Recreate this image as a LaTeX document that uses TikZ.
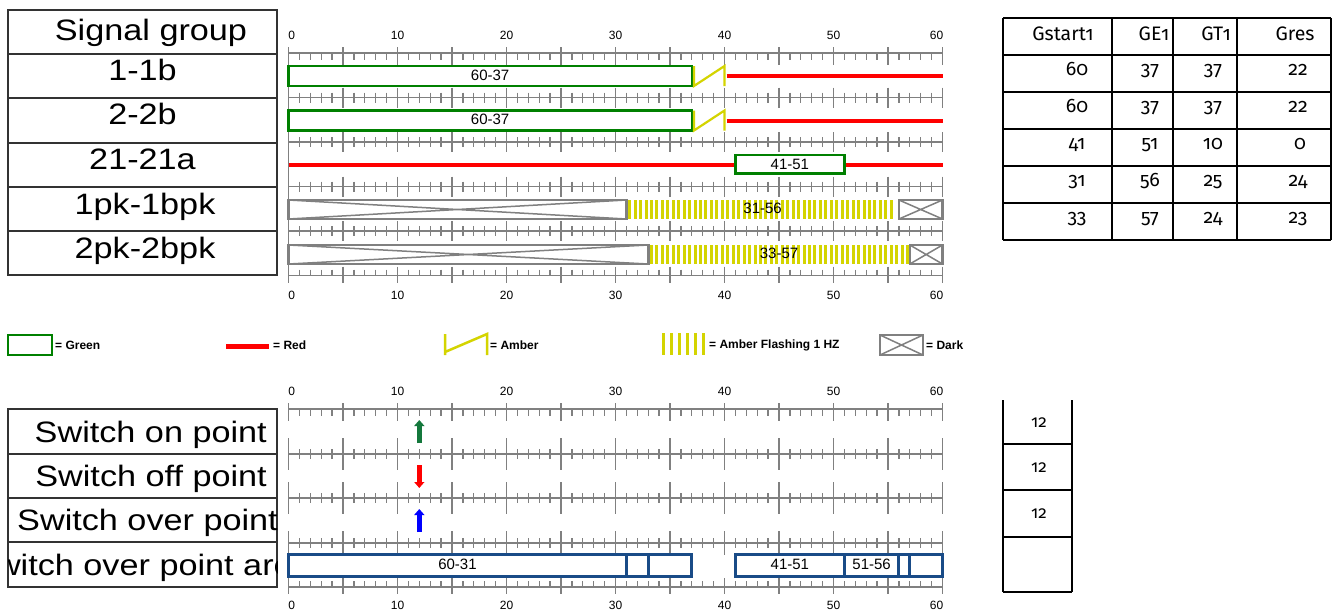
\documentclass[tikz,border=0pt]{standalone}
\usepackage{fontspec}
\setmainfont{Liberation Sans}
\newfontfamily\labfont[FakeStretch=1.16]{Liberation Sans}
\newfontfamily\tabfont[Numbers=OldStyle]{Fira Sans}
\usetikzlibrary{arrows.meta}
\definecolor{axgray}{RGB}{128,128,128}
\definecolor{sgreen}{RGB}{0,128,0}
\definecolor{sred}{RGB}{255,0,0}
\definecolor{samber}{RGB}{212,212,0}
\definecolor{sblue}{RGB}{25,75,135}
\definecolor{agreen}{RGB}{20,120,60}
\definecolor{ablue}{RGB}{0,0,255}
\newcommand\axmid[2]{%
  \draw[axln] (0,#1) -- (60,#1);
  \foreach \i in {0,...,60}{\draw[axln] (\i,#1-5) -- (\i,#1+5);}
  \foreach \i in {0,5,...,60}{\draw[axln] (\i,#1-#2) -- (\i,#1+#2);}}
\newcommand\axtop[1]{%
  \draw[axln] (0,#1) -- (60,#1);
  \foreach \i in {0,...,60}{\draw[axln] (\i,#1) -- (\i,#1+7);}
  \foreach \i in {0,5,...,60}{\draw[axln] (\i,#1-6) -- (\i,#1+12);}}
\newcommand\axbot[1]{%
  \draw[axln] (0,#1) -- (60,#1);
  \foreach \i in {0,...,60}{\draw[axln] (\i,#1-6) -- (\i,#1);}
  \foreach \i in {0,5,...,60}{\draw[axln] (\i,#1-9) -- (\i,#1+7);}}
\newcommand\axnums[2]{% #1 y, #2 name prefix
  \node[numtxt] (#20) at (0.3,#1) {0};
  \foreach \i in {10,20,...,50}{\node[numtxt] (#2\i) at (\i,#1) {\i};}
  \node[numtxt] (#260) at (59.45,#1) {60};}
\begin{document}
\begin{tikzpicture}[x=1pt,y=-1pt,
  gridln/.style={draw=black!80, line width=1.1pt},
  labtxt/.style={font=\labfont\fontsize{29.5}{31}\selectfont, inner sep=0pt, anchor=base},
  axln/.style={draw=axgray, line width=1.3pt},
  numtxt/.style={font=\fontsize{12}{14}\selectfont, inner sep=0pt},
  bartxt/.style={font=\fontsize{15}{17}\selectfont, inner sep=0pt},
  gbox/.style={draw=sgreen, line width=2.6pt, fill=white},
  redln/.style={draw=sred, line width=4pt},
  ambln/.style={draw=samber, line width=2.2pt},
  stripe/.style={draw=samber, line width=3pt},
  darkbox/.style={draw=axgray, line width=2.6pt, fill=white},
  darkx/.style={draw=axgray, line width=1.5pt},
  bbox/.style={draw=sblue, line width=3pt, fill=white},
  legtxt/.style={font=\bfseries\fontsize{12}{14}\selectfont, inner sep=0pt, anchor=west},
  tabln/.style={draw=black, line width=1.8pt},
  tabtxt/.style={font=\tabfont\fontsize{19.5}{21}\selectfont, inner sep=0pt, anchor=base},
  smtxt/.style={font=\tabfont\fontsize{17}{19}\selectfont, inner sep=0pt},
  uparr/.style={line width=5.5pt, -{Triangle[length=6pt,width=10pt]}}]
\useasboundingbox[fill=white] (0,0) rectangle (1332,611);

% ---------- top-left label table
\draw[gridln] (8,10) rectangle (277,275);
\foreach \yy in {54,98,143,187,231}{\draw[gridln] (8,\yy) -- (277,\yy);}
\node[labtxt] (lsg) at (151,40) {Signal group};
\node[labtxt] (l1) at (142.5,80) {1-1b};
\node[labtxt] (l2) at (142.5,124.5) {2-2b};
\node[labtxt] (l3) at (142.5,169.5) {21-21a};
\node[labtxt] (l4) at (145,214) {1pk-1bpk};
\node[labtxt] (l5) at (145,258) {2pk-2bpk};

% ---------- top timeline
\begin{scope}[shift={(288.5,0)}, x=10.9pt]
  \axtop{53}
  \axmid{97.5}{10}
  \axmid{142}{10}
  \axmid{186.5}{10}
  \axmid{231}{10}
  \axbot{275.5}
  \draw[axln] (0,47) -- (0,283);
  \axnums{35}{tt}
  \axnums{295}{tb}
  % 1-1b
  \draw[gbox] (0,66) rectangle (37,86);
  \node[bartxt] (b1) at (18.5,75) {60-37};
  \draw[ambln] (37.2,66) -- (37.2,86) -- (40,66) -- (40,86);
  \draw[redln] (40.2,76) -- (60,76);
  % 2-2b
  \draw[gbox] (0,110.5) rectangle (37,130.5);
  \node[bartxt] (b2) at (18.5,119.5) {60-37};
  \draw[ambln] (37.2,110.5) -- (37.2,130.5) -- (40,110.5) -- (40,130.5);
  \draw[redln] (40.2,120.5) -- (60,120.5);
  % 21-21a
  \draw[redln] (0,165) -- (60,165);
  \draw[gbox] (41,155) rectangle (51,173.5);
  \node[bartxt] (b3) at (46,164) {41-51};
  % 1pk-1bpk
  \draw[darkbox] (0,200) rectangle (31,219);
  \draw[darkx] (0,200) -- (31,219) (0,219) -- (31,200);
  \foreach \k in {0,...,48}{\draw[stripe] ({31.3+0.5*\k},200) -- ({31.3+0.5*\k},219);}
  \node[bartxt] (b4) at (43.5,208.5) {31-56};
  \draw[darkbox] (56,200) rectangle (60,219);
  \draw[darkx] (56,200) -- (60,219) (56,219) -- (60,200);
  % 2pk-2bpk
  \draw[darkbox] (0,245) rectangle (33,264);
  \draw[darkx] (0,245) -- (33,264) (0,264) -- (33,245);
  \foreach \k in {0,...,47}{\draw[stripe] ({33.3+0.5*\k},245) -- ({33.3+0.5*\k},264);}
  \node[bartxt] (b5) at (45,253.5) {33-57};
  \draw[darkbox] (57,245) rectangle (60,264);
  \draw[darkx] (57,245) -- (60,264) (57,264) -- (60,245);
\end{scope}

% ---------- top-right table
\foreach \xx in {1003,1112,1173,1237,1331}{\draw[tabln] (\xx,18) -- (\xx,240);}
\foreach \yy in {18,55,92,129,166,203,240}{\draw[tabln] (1003,\yy) -- (1331,\yy);}
\node[tabtxt] (h1) at (1063,40) {Gstart1};
\node[tabtxt] (h2) at (1154,40) {GE1};
\node[tabtxt] (h3) at (1216,40) {GT1};
\node[tabtxt] (h4) at (1295,40) {Gres};
\node[tabtxt] (r1a) at (1077,75) {60};
\node[tabtxt] (r1b) at (1150,75) {37};
\node[tabtxt] (r1c) at (1213,75) {37};
\node[tabtxt] (r1d) at (1298,75) {22};
\node[tabtxt] (r2a) at (1077,112) {60};
\node[tabtxt] (r2b) at (1150,112) {37};
\node[tabtxt] (r2c) at (1213,112) {37};
\node[tabtxt] (r2d) at (1298,112) {22};
\node[tabtxt] (r3a) at (1077,149) {41};
\node[tabtxt] (r3b) at (1150,149) {51};
\node[tabtxt] (r3c) at (1213,149) {10};
\node[tabtxt] (r3d) at (1300,149) {0};
\node[tabtxt] (r4a) at (1077,186) {31};
\node[tabtxt] (r4b) at (1150,186) {56};
\node[tabtxt] (r4c) at (1213,186) {25};
\node[tabtxt] (r4d) at (1298,186) {24};
\node[tabtxt] (r5a) at (1077,223) {33};
\node[tabtxt] (r5b) at (1150,223) {57};
\node[tabtxt] (r5c) at (1213,223) {24};
\node[tabtxt] (r5d) at (1298,223) {23};

% ---------- legend
\draw[gbox] (8,335) rectangle (52,355);
\node[legtxt] (lg1) at (55,345) {= Green};
\draw[redln, line width=5pt] (226,346) -- (269,346);
\node[legtxt] (lg2) at (273,345) {= Red};
\draw[ambln, line width=2.5pt] (445,334) -- (445,355) (445,352) -- (487,334) -- (487,355);
\node[legtxt] (lg3) at (490,345) {= Amber};
\foreach \k in {0,...,5}{\draw[stripe] ({663+8.1*\k},333) -- ({663+8.1*\k},355);}
\node[legtxt] (lg4) at (709,345) {= Amber Flashing 1 HZ};
\draw[darkbox] (880,335) rectangle (923,355);
\draw[darkx] (880,335) -- (923,355) (880,355) -- (923,335);
\node[legtxt] (lg5) at (926,345) {= Dark};

% ---------- bottom-left label table
\draw[gridln] (8,409) rectangle (277,587);
\foreach \yy in {454,498,542}{\draw[gridln] (8,\yy) -- (277,\yy);}
\begin{scope}
  \clip (8,409) rectangle (277,587);
  \node[labtxt, anchor=base east] (s1) at (267,442) {Switch on point};
  \node[labtxt, anchor=base east] (s2) at (267,486) {Switch off point};
  \node[labtxt, anchor=base east] (s3) at (278,530.5) {Switch over point};
  \node[labtxt] (s4) at (142.5,575) {Switch over point area};
\end{scope}

% ---------- bottom timeline
\begin{scope}[shift={(288.5,0)}, x=10.9pt]
  \axtop{409}
  \axmid{454}{16}
  \axmid{498}{16}
  \axmid{543}{12}
  \axbot{587}
  \axnums{391}{ut}
  \axnums{605}{ub}
  \coordinate (ga) at (12,443); \coordinate (gb) at (12,420);
  \coordinate (ra) at (12,465); \coordinate (rb) at (12,488);
  \coordinate (ba) at (12,532); \coordinate (bb) at (12,509);
  \draw[uparr, agreen] (ga) -- (gb);
  \draw[uparr, sred] (ra) -- (rb);
  \draw[uparr, ablue] (ba) -- (bb);
  \draw[bbox] (0,554) rectangle (31,576);
  \node[bartxt] (c1) at (15.5,564) {60-31};
  \draw[bbox] (31,554) rectangle (33,576);
  \draw[bbox] (33,554) rectangle (37,576);
  \draw[bbox] (41,554) rectangle (51,576);
  \node[bartxt] (c2) at (46,564) {41-51};
  \draw[bbox] (51,554) rectangle (56,576);
  \node[bartxt] (c3) at (53.5,564) {51-56};
  \draw[bbox] (56,554) rectangle (57,576);
  \draw[bbox] (57,554) rectangle (60,576);
\end{scope}

% ---------- bottom-right table
\draw[tabln, line width=1.5pt] (1003,400) -- (1003,592) (1072,400) -- (1072,592);
\foreach \yy in {444,490,537,592}{\draw[tabln, line width=1.5pt] (1003,\yy) -- (1072,\yy);}
\node[smtxt] (t1) at (1039,423) {12};
\node[smtxt] (t2) at (1039,468) {12};
\node[smtxt] (t3) at (1039,514) {12};
\end{tikzpicture}
\end{document}
